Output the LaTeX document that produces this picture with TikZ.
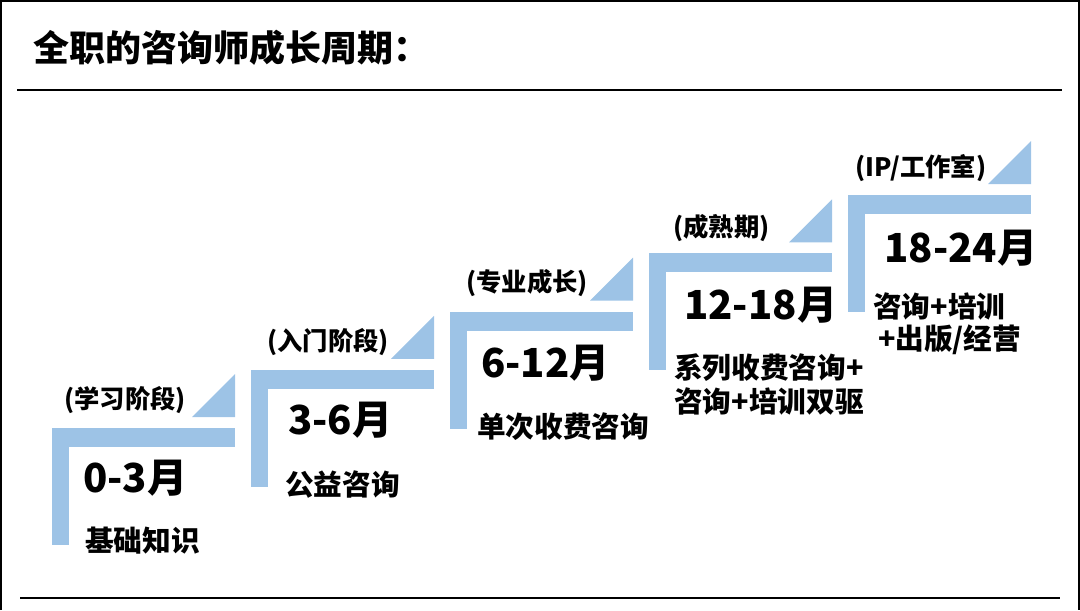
\documentclass[tikz,border=0pt]{standalone}
\usepackage{fontspec}
\setmainfont{Noto Sans CJK SC}
\usepackage{tikz}
\usetikzlibrary{positioning,calc}
\definecolor{stepblue}{RGB}{157,195,230}
\tikzset{
  bar/.style={fill=stepblue,draw=none},
  stg/.style={anchor=west,inner sep=0pt,font=\fontsize{19}{21}\selectfont\bfseries},
  prd/.style={anchor=west,inner sep=0pt,font=\fontsize{30}{34}\selectfont\bfseries},
  tsk/.style={anchor=west,inner sep=0pt,align=left,
              font=\fontsize{21.5}{25.5}\selectfont\bfseries},
}

\begin{document}
\begin{tikzpicture}[x=0.75pt,y=-0.75pt]
  \useasboundingbox (0,0) rectangle (1080,610);
  % frame and rules
  \draw[line width=1.5pt] (1,610) -- (1,1) -- (1079,1) -- (1079,610);
  \node[anchor=west,inner sep=0pt,font=\fontsize{27}{30}\selectfont\bfseries]
    (title) at (33,48) {全职的咨询师成长周期：};
  \draw[line width=1.1pt] (17,90) -- (1062,90);
  \draw[line width=2.2pt] (20,598) -- (1060,598);

  % the five steps
  \foreach \i in {0,...,4}{
    \pgfmathsetmacro{\sx}{52+199*\i}
    \pgfmathsetmacro{\sy}{428-58.25*\i}
    \coordinate (s\i) at (\sx,\sy);
    \fill[bar] (\sx,\sy) rectangle ++(183,19);
    \fill[bar] (\sx,\sy) rectangle ++(17,117);
    \fill[bar] (\sx+140,\sy-11) -- (\sx+183,\sy-11) -- (\sx+183,\sy-54) -- cycle;
  }

  \node[stg] (stage1) at ($(s0)+(12,-28)$) {(学习阶段)};
  \node[prd] (per1) at ($(s0)+(31,50)$) {0-3月};
  \node[tsk] (task1) at ($(s0)+(33,113)$) {基础知识};

  \node[stg] (stage2) at ($(s1)+(16,-28)$) {(入门阶段)};
  \node[prd] (per2) at ($(s1)+(37,50)$) {3-6月};
  \node[tsk] (task2) at ($(s1)+(34,115)$) {公益咨询};

  \node[stg] (stage3) at ($(s2)+(16,-28)$) {(专业成长)};
  \node[prd] (per3) at ($(s2)+(31,52)$) {6-12月};
  \node[tsk] (task3) at ($(s2)+(27,115)$) {单次收费咨询};

  \node[stg] (stage4) at ($(s3)+(24,-25)$) {(成熟期)};
  \node[prd] (per4) at ($(s3)+(35,52)$) {12-18月};
  \node[tsk] (task4) at ($(s3)+(25,131)$) {系列收费咨询+\\咨询+培训双驱};

  \node[stg] (stage5) at ($(s4)+(7,-27)$) {(IP/工作室)};
  \node[prd] (per5) at ($(s4)+(36,53)$) {18-24月};
  \node[tsk,font=\fontsize{21.5}{24}\selectfont\bfseries]
    (task5) at ($(s4)+(25,129)$) {咨询+培训\\\,+出版/经营};
\end{tikzpicture}
\end{document}
